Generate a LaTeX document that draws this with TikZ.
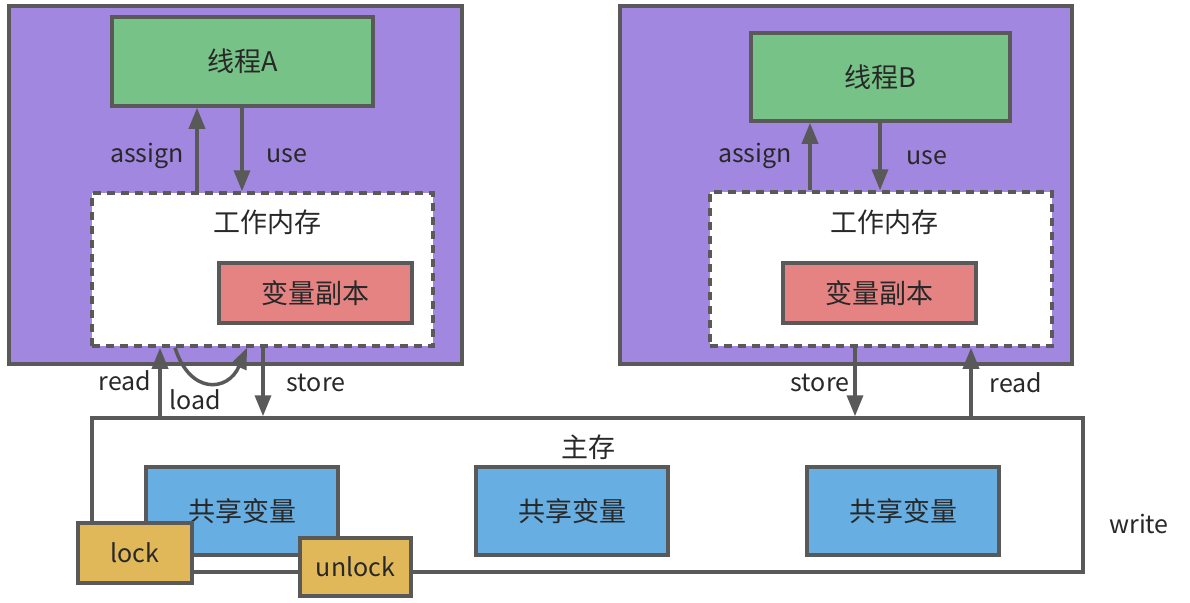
\documentclass[tikz,border=0pt]{standalone}
\usepackage{fontspec}
\setmainfont{Noto Sans CJK SC}
\usetikzlibrary{arrows.meta}
\definecolor{pur}{RGB}{161,135,224}
\definecolor{grn}{RGB}{119,195,135}
\definecolor{rd}{RGB}{229,131,131}
\definecolor{bl}{RGB}{103,175,227}
\definecolor{gd}{RGB}{224,184,90}
\definecolor{ln}{RGB}{89,89,89}
\definecolor{tx}{RGB}{40,40,40}
\tikzset{
  box/.style={draw=ln, line width=3.5pt, rectangle, inner sep=0pt, text=tx, font=\fontsize{27}{32}\selectfont},
  lbl/.style={text=tx, font=\fontsize{25}{30}\selectfont, inner sep=0pt},
  arr/.style={draw=ln, line width=3.5pt, -{Triangle[length=21pt,width=16pt]}},
}
\begin{document}
\begin{tikzpicture}[x=1pt,y=-1pt]
\useasboundingbox (0,0) rectangle (1190,602);
% thread A area
\node[box, fill=pur, minimum width=453pt, minimum height=358pt] (pa) at (235.5,185) {};
\node[box, fill=grn, minimum width=261pt, minimum height=89pt] (ta) at (242.5,61.5) {线程A};
\node[box, fill=white, dashed, dash pattern=on 8pt off 6pt, minimum width=341pt, minimum height=153pt] (wa) at (262.5,269.5) {};
\node[lbl, font=\fontsize{27}{32}\selectfont] (wat) at (267,222) {工作内存};
\node[box, fill=rd, minimum width=193pt, minimum height=60pt] (ra) at (315.5,293) {变量副本};
% thread B area
\node[box, fill=pur, minimum width=452pt, minimum height=358pt] (pb) at (846,185) {};
\node[box, fill=grn, minimum width=259pt, minimum height=88pt] (tb) at (880.5,77) {线程B};
\node[box, fill=white, dashed, dash pattern=on 8pt off 6pt, minimum width=342pt, minimum height=154pt] (wb) at (881,269) {};
\node[lbl, font=\fontsize{27}{32}\selectfont] (wbt) at (884,222) {工作内存};
\node[box, fill=rd, minimum width=193pt, minimum height=60pt] (rb) at (879.5,293) {变量副本};
% main memory
\node[box, fill=white, minimum width=991pt, minimum height=154pt] (mm) at (587.5,495) {};
\node[lbl, font=\fontsize{27}{32}\selectfont] (mmt) at (588,447) {主存};
\node[box, fill=bl, minimum width=192pt, minimum height=88pt] (s1) at (242,511) {共享变量};
\node[box, fill=bl, minimum width=192pt, minimum height=88pt] (s2) at (572,511) {共享变量};
\node[box, fill=bl, minimum width=192pt, minimum height=88pt] (s3) at (903,511) {共享变量};
\node[box, fill=gd, minimum width=114pt, minimum height=60pt, font=\fontsize{25}{30}\selectfont] (lk) at (135,553) {lock};
\node[box, fill=gd, minimum width=111pt, minimum height=58pt, font=\fontsize{25}{30}\selectfont] (ul) at (355.5,567) {unlock};
\node[lbl] (wr) at (1139,524) {write};
% x positions
\coordinate (xa1) at (197,0);
\coordinate (xa2) at (242,0);
\coordinate (xb1) at (810,0);
\coordinate (xb2) at (880,0);
\coordinate (xr1) at (160,0);
\coordinate (xl1) at (175,0);
\coordinate (xl2) at (247,0);
\coordinate (xs1) at (263,0);
\coordinate (xs2) at (855,0);
\coordinate (xr2) at (971,0);
% arrows thread A
\draw[arr] (wa.north -| xa1) -- (ta.south -| xa1);
\draw[arr] (ta.south -| xa2) -- (wa.north -| xa2);
\node[lbl, anchor=east] (asa) at (184,156) {assign};
\node[lbl, anchor=west] (usa) at (266,156) {use};
% arrows thread B
\draw[arr] (wb.north -| xb1) -- (tb.south -| xb1);
\draw[arr] (tb.south -| xb2) -- (wb.north -| xb2);
\node[lbl, anchor=east] (asb) at (792,156) {assign};
\node[lbl, anchor=west] (usb) at (906,158) {use};
% A <-> main
\draw[arr] (mm.north -| xr1) -- (wa.south -| xr1);
\draw[arr] (wa.south -| xl1) .. controls (190,395) and (228,392) .. (wa.south -| xl2);
\draw[arr] (wa.south -| xs1) -- (mm.north -| xs1);
\node[lbl] (rda) at (125,381) {read};
\node[lbl] (lda) at (195,400) {load};
\node[lbl] (sta) at (316,383) {store};
% B <-> main
\draw[arr] (wb.south -| xs2) -- (mm.north -| xs2);
\draw[arr] (mm.north -| xr2) -- (wb.south -| xr2);
\node[lbl] (stb) at (820,383) {store};
\node[lbl] (rdb) at (1016,383) {read};
\end{tikzpicture}
\end{document}
